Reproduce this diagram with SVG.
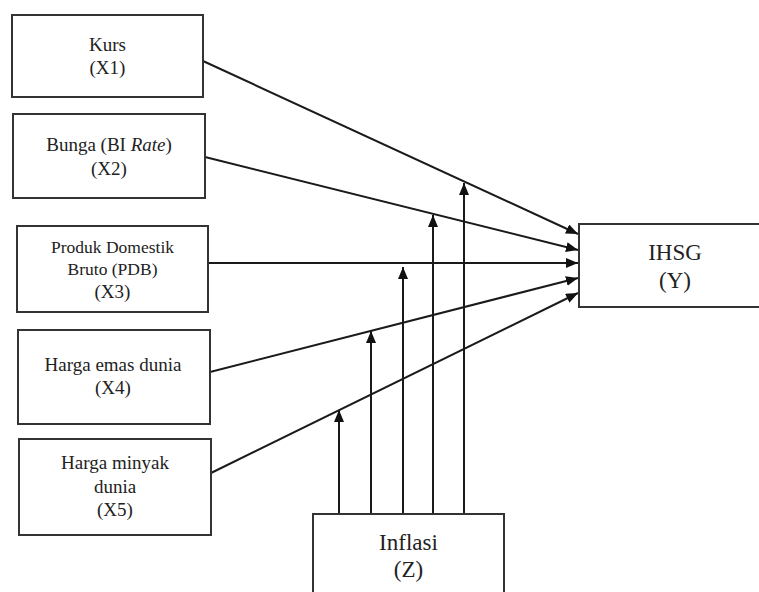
<svg xmlns="http://www.w3.org/2000/svg" width="759" height="592" viewBox="0 0 759 592">
<style>
.box{fill:#fff;stroke:#333;stroke-width:2}
.t{font-family:"Liberation Serif","DejaVu Serif",serif;fill:#222;text-anchor:middle}
.m{font-size:19px}
.s{font-size:17.5px}
.l{font-size:23px}
.c{stroke:#1a1a1a;stroke-width:2;fill:none}
</style>
<defs>
<marker id="ah" markerUnits="userSpaceOnUse" markerWidth="13" markerHeight="11" refX="12" refY="5" orient="auto">
<path d="M0,0 L12,5 L0,10 z" fill="#111"/>
</marker>
</defs>
<rect width="759" height="592" fill="#fff"/>
<g id="connectors">
<line class="c" x1="203" y1="61" x2="578" y2="234" marker-end="url(#ah)"/>
<line class="c" x1="205" y1="157" x2="578" y2="250" marker-end="url(#ah)"/>
<line class="c" x1="208" y1="263" x2="578" y2="263" marker-end="url(#ah)"/>
<line class="c" x1="210" y1="372" x2="578" y2="278" marker-end="url(#ah)"/>
<line class="c" x1="211" y1="473" x2="578" y2="293" marker-end="url(#ah)"/>
<line class="c" x1="339" y1="514" x2="339" y2="410" marker-end="url(#ah)"/>
<line class="c" x1="371" y1="514" x2="371" y2="331" marker-end="url(#ah)"/>
<line class="c" x1="403" y1="514" x2="403" y2="267" marker-end="url(#ah)"/>
<line class="c" x1="433" y1="514" x2="433" y2="215" marker-end="url(#ah)"/>
<line class="c" x1="464" y1="514" x2="464" y2="183" marker-end="url(#ah)"/>
</g>
<g id="x1">
<rect class="box" x="12" y="15" width="191" height="82"/>
<text class="t m" x="107.5" y="51">Kurs</text>
<text class="t m" x="107.5" y="74">(X1)</text>
</g>
<g id="x2">
<rect class="box" x="13" y="114" width="192" height="84"/>
<text class="t m" x="109" y="151">Bunga (BI <tspan font-style="italic">Rate</tspan>)</text>
<text class="t m" x="109" y="175">(X2)</text>
</g>
<g id="x3">
<rect class="box" x="17" y="226" width="191" height="86"/>
<text class="t s" x="112.5" y="253">Produk Domestik</text>
<text class="t s" x="112.5" y="275">Bruto (PDB)</text>
<text class="t m" x="112.5" y="298">(X3)</text>
</g>
<g id="x4">
<rect class="box" x="18" y="330" width="192" height="94"/>
<text class="t m" x="113" y="371">Harga emas dunia</text>
<text class="t m" x="113" y="394">(X4)</text>
</g>
<g id="x5">
<rect class="box" x="19" y="439" width="192" height="96"/>
<text class="t m" x="115" y="469">Harga minyak</text>
<text class="t m" x="115" y="493">dunia</text>
<text class="t m" x="115" y="516">(X5)</text>
</g>
<g id="y">
<rect class="box" x="579" y="224" width="195" height="83"/>
<text class="t l" x="675" y="260">IHSG</text>
<text class="t l" x="675" y="288">(Y)</text>
</g>
<g id="z">
<rect class="box" x="313" y="514" width="191" height="90"/>
<text class="t l" x="408.5" y="550">Inflasi</text>
<text class="t l" x="408.5" y="577">(Z)</text>
</g>
</svg>
